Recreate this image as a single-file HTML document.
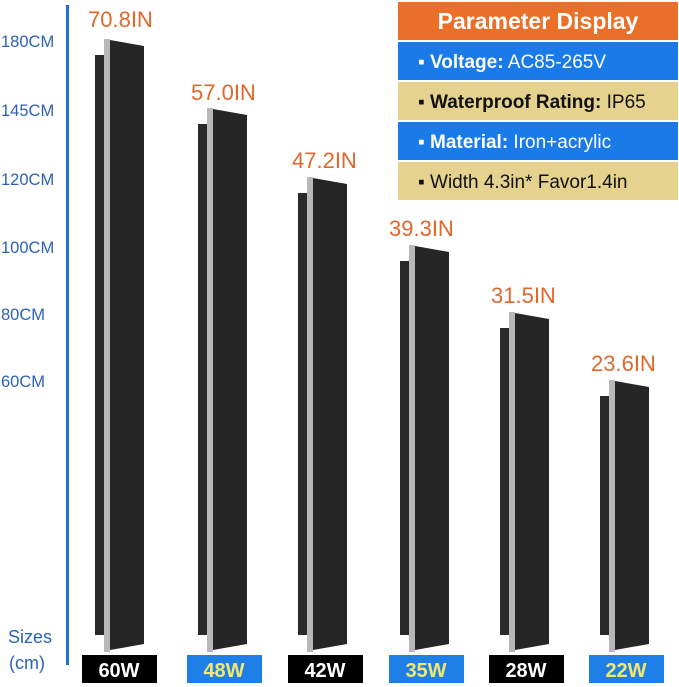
<!DOCTYPE html>
<html><head><style>
body{margin:0;background:#fff;width:679px;height:687px;overflow:hidden}
svg{display:block;font-family:"Liberation Sans","DejaVu Sans",sans-serif}
</style></head><body>
<svg width="679" height="687" viewBox="0 0 679 687" xmlns="http://www.w3.org/2000/svg">
<rect x="66" y="5" width="3" height="660" fill="#1f6fd6"/>
<g fill="#2c62b8" font-size="16.5">
<text x="1" y="47">180CM</text>
<text x="1" y="116">145CM</text>
<text x="1" y="185">120CM</text>
<text x="1" y="253">100CM</text>
<text x="1" y="320">80CM</text>
<text x="1" y="387">60CM</text>
<text x="8" y="643" font-size="18">Sizes</text>
<text x="9" y="669" font-size="18">(cm)</text>
</g>
<g fill="#e0682a" font-size="22">
<text x="88" y="27">70.8IN</text>
<text x="191" y="100">57.0IN</text>
<text x="292" y="168">47.2IN</text>
<text x="389" y="236">39.3IN</text>
<text x="491" y="303">31.5IN</text>
<text x="591" y="371">23.6IN</text>
</g>
<g id="lamps">
<g transform="translate(104,0)"><rect x="-9" y="55" width="9" height="580" fill="#2a2a2a"/><rect x="0" y="39" width="6" height="613" fill="#b8b8b8"/><polygon points="6,40 40,46 40,644 6,650" fill="#262626"/></g>
<g transform="translate(207,0)"><rect x="-9" y="124" width="9" height="511" fill="#2a2a2a"/><rect x="0" y="108" width="6" height="544" fill="#b8b8b8"/><polygon points="6,109 40,115 40,644 6,650" fill="#262626"/></g>
<g transform="translate(307,0)"><rect x="-9" y="193" width="9" height="442" fill="#2a2a2a"/><rect x="0" y="177" width="6" height="475" fill="#b8b8b8"/><polygon points="6,178 40,184 40,644 6,650" fill="#262626"/></g>
<g transform="translate(409,0)"><rect x="-9" y="261" width="9" height="374" fill="#2a2a2a"/><rect x="0" y="245" width="6" height="407" fill="#b8b8b8"/><polygon points="6,246 40,252 40,644 6,650" fill="#262626"/></g>
<g transform="translate(509,0)"><rect x="-9" y="328" width="9" height="307" fill="#2a2a2a"/><rect x="0" y="312" width="6" height="340" fill="#b8b8b8"/><polygon points="6,313 40,319 40,644 6,650" fill="#262626"/></g>
<g transform="translate(609,0)"><rect x="-9" y="396" width="9" height="239" fill="#2a2a2a"/><rect x="0" y="380" width="6" height="272" fill="#b8b8b8"/><polygon points="6,381 40,387 40,644 6,650" fill="#262626"/></g>
</g>
<g font-size="20" font-weight="bold" text-anchor="middle">
<rect x="82" y="655" width="75" height="28" fill="#000"/><text x="119" y="677" fill="#fff">60W</text>
<rect x="187" y="655" width="75" height="28" fill="#1f7fe8"/><text x="224" y="677" fill="#f3e86a">48W</text>
<rect x="288" y="655" width="75" height="28" fill="#000"/><text x="325" y="677" fill="#fff">42W</text>
<rect x="389" y="655" width="75" height="28" fill="#1f7fe8"/><text x="426" y="677" fill="#f3e86a">35W</text>
<rect x="489" y="655" width="75" height="28" fill="#000"/><text x="526" y="677" fill="#fff">28W</text>
<rect x="589" y="655" width="75" height="28" fill="#1f7fe8"/><text x="626" y="677" fill="#f3e86a">22W</text>
</g>
<g font-size="19">
<rect x="398" y="2" width="280" height="38" fill="#ea6f28"/>
<text x="538" y="29" fill="#fff" font-weight="bold" font-size="23" text-anchor="middle">Parameter Display</text>
<rect x="398" y="42" width="280" height="38" fill="#1a7ae8"/>
<rect x="398" y="82" width="280" height="38" fill="#e4d28e"/>
<rect x="398" y="122" width="280" height="38" fill="#1a7ae8"/>
<rect x="398" y="162" width="280" height="38" fill="#e4d28e"/>
<text x="418" y="68" fill="#fff"><tspan font-weight="bold">▪ Voltage:</tspan> AC85-265V</text>
<text x="418" y="108" fill="#111"><tspan font-weight="bold">▪ Waterproof Rating:</tspan> IP65</text>
<text x="418" y="148" fill="#fff"><tspan font-weight="bold">▪ Material:</tspan> Iron+acrylic</text>
<text x="418" y="188" fill="#111">▪ Width 4.3in* Favor1.4in</text>
</g>
</svg>
</body></html>
